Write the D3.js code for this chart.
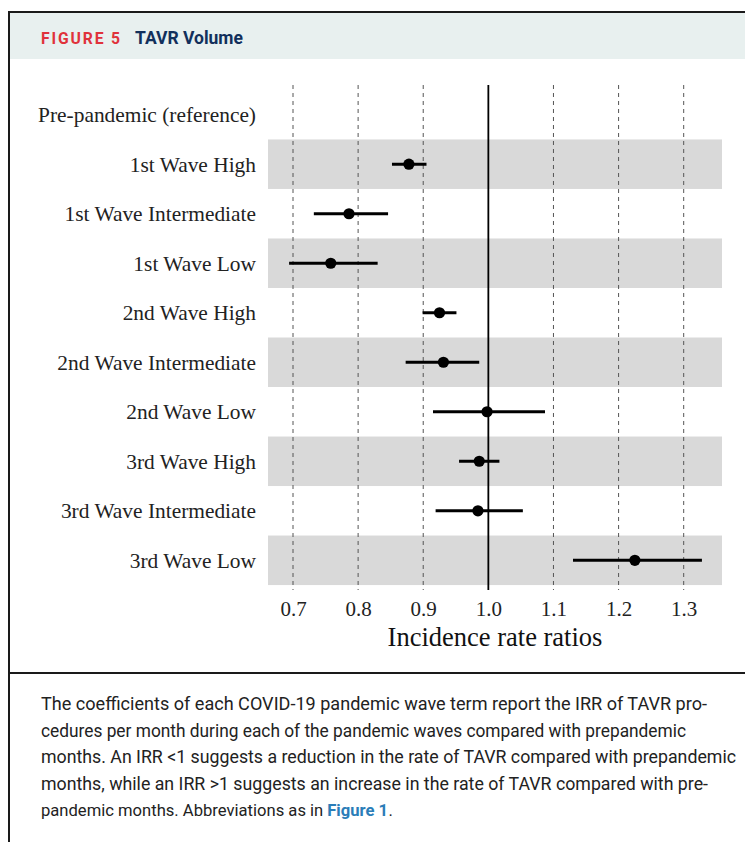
<!DOCTYPE html>
<html>
<head>
<meta charset="utf-8">
<script src="https://cdn.jsdelivr.net/npm/d3@7"></script>
<style>
  html, body { margin: 0; padding: 0; background: #ffffff; }
  svg { display: block; }
</style>
</head>
<body>
<div id="chart"></div>
<script>
// Forest plot of incidence rate ratios for TAVR volume by pandemic wave
const categories = [
  "Pre-pandemic (reference)",
  "1st Wave High",
  "1st Wave Intermediate",
  "1st Wave Low",
  "2nd Wave High",
  "2nd Wave Intermediate",
  "2nd Wave Low",
  "3rd Wave High",
  "3rd Wave Intermediate",
  "3rd Wave Low"
];
// Point estimates and 95% CI bounds (reference row has none)
const estimates = [null, 0.878, 0.786, 0.758, 0.925, 0.931, 0.998, 0.986, 0.984, 1.225];
const lowerCI   = [null, 0.852, 0.732, 0.694, 0.899, 0.873, 0.915, 0.955, 0.919, 1.130];
const upperCI   = [null, 0.905, 0.846, 0.830, 0.951, 0.986, 1.087, 1.017, 1.053, 1.328];
const xTicks = [0.7, 0.8, 0.9, 1.0, 1.1, 1.2, 1.3];
const referenceValue = 1.0;

const captionLines = [
  "The coefficients of each COVID-19 pandemic wave term report the IRR of TAVR pro-",
  "cedures per month during each of the pandemic waves compared with prepandemic",
  "months. An IRR <1 suggests a reduction in the rate of TAVR compared with prepandemic",
  "months, while an IRR >1 suggests an increase in the rate of TAVR compared with pre-"
];
const captionLastLine = ["pandemic months. Abbreviations as in", "Figure 1", "."];

const W = 745, H = 842;
const svg = d3.select("#chart").append("svg").attr("width", W).attr("height", H);

// ---- figure frame and header ----
const frameX = 9, frameTop = 12;
svg.append("rect").attr("x", frameX).attr("y", frameTop).attr("width", W - frameX).attr("height", 47)
  .attr("fill", "#e8f0ef");
svg.append("line").attr("x1", frameX).attr("x2", W).attr("y1", frameTop).attr("y2", frameTop)
  .attr("stroke", "#1a1a1a").attr("stroke-width", 2);
svg.append("line").attr("x1", frameX).attr("x2", frameX).attr("y1", frameTop - 1).attr("y2", H)
  .attr("stroke", "#1a1a1a").attr("stroke-width", 2);
svg.append("line").attr("x1", frameX).attr("x2", W).attr("y1", 673).attr("y2", 673)
  .attr("stroke", "#1a1a1a").attr("stroke-width", 2);

const titleFont = "Roboto, 'Liberation Sans', sans-serif";
svg.append("text").attr("x", 41).attr("y", 44)
  .attr("font-family", titleFont).attr("font-weight", 700)
  .attr("fill", "#e0323b").attr("font-size", 16).attr("letter-spacing", 1.9)
  .attr("textLength", 81).attr("lengthAdjust", "spacingAndGlyphs").text("FIGURE 5");
svg.append("text").attr("x", 135).attr("y", 44)
  .attr("font-family", titleFont).attr("font-weight", 700)
  .attr("fill", "#12305c").attr("font-size", 17.5)
  .attr("textLength", 108).attr("lengthAdjust", "spacingAndGlyphs").text("TAVR Volume");

// ---- plot scales ----
const panel = { left: 268, right: 722, top: 85, bottom: 590 };
const xScale = d3.scaleLinear().domain([0.7, 1.3]).range([293, 683.7]);
xScale.domain([xScale.invert(panel.left), xScale.invert(panel.right)]).range([panel.left, panel.right]);
const yScale = d3.scalePoint().domain(categories).range([panel.top, panel.bottom]).padding(0.6);
const step = yScale.step();

const plot = svg.append("g");

// alternating row bands
plot.selectAll("rect.band")
  .data(categories.filter((d, i) => i % 2 === 1))
  .join("rect")
  .attr("class", "band")
  .attr("x", panel.left).attr("width", panel.right - panel.left)
  .attr("y", d => yScale(d) - step / 2).attr("height", step)
  .attr("fill", "#d9d9d9");

// dashed vertical gridlines
plot.selectAll("line.grid")
  .data(xTicks.filter(t => t !== referenceValue))
  .join("line")
  .attr("class", "grid")
  .attr("x1", d => xScale(d)).attr("x2", d => xScale(d))
  .attr("y1", panel.top).attr("y2", panel.bottom)
  .attr("stroke", "#555").attr("stroke-width", 1).attr("stroke-dasharray", "4,4");

// reference line at IRR = 1
plot.append("line")
  .attr("x1", xScale(referenceValue)).attr("x2", xScale(referenceValue))
  .attr("y1", panel.top).attr("y2", panel.bottom)
  .attr("stroke", "#000").attr("stroke-width", 1.8);

const rows = categories.map((c, i) => ({ c, est: estimates[i], lo: lowerCI[i], hi: upperCI[i] }))
  .filter(d => d.est !== null);

// confidence intervals
plot.selectAll("line.ci").data(rows).join("line")
  .attr("class", "ci")
  .attr("x1", d => xScale(d.lo)).attr("x2", d => xScale(d.hi))
  .attr("y1", d => yScale(d.c)).attr("y2", d => yScale(d.c))
  .attr("stroke", "#000").attr("stroke-width", 3);

// point estimates
plot.selectAll("circle.est").data(rows).join("circle")
  .attr("class", "est")
  .attr("cx", d => xScale(d.est)).attr("cy", d => yScale(d.c))
  .attr("r", 5.6).attr("fill", "#000");

// ---- axes ----
const serif = "'Liberation Serif', 'Times New Roman', serif";
const xAxis = svg.append("g").attr("transform", `translate(0,${panel.bottom})`)
  .call(d3.axisBottom(xScale).tickValues(xTicks).tickFormat(d3.format(".1f")).tickSize(0).tickPadding(11));
xAxis.select(".domain").remove();
xAxis.selectAll("text").attr("font-family", serif).attr("font-size", 21).attr("fill", "#222");

const yAxis = svg.append("g").attr("transform", `translate(${panel.left},0)`)
  .call(d3.axisLeft(yScale).tickSize(0).tickPadding(12));
yAxis.select(".domain").remove();
yAxis.selectAll("text").attr("font-family", serif).attr("font-size", 21.4).attr("fill", "#222");

svg.append("text").attr("x", 495).attr("y", 646).attr("text-anchor", "middle")
  .attr("font-family", serif).attr("font-size", 26.5).attr("fill", "#111")
  .text("Incidence rate ratios");

// ---- caption ----
const captionWidths = [666, 645, 695, 667];
const capFont = "Roboto, 'Liberation Sans', sans-serif";
const capX = 41, capY0 = 710, capLead = 26.5;
captionLines.forEach((line, i) => {
  svg.append("text").attr("x", capX).attr("y", capY0 + i * capLead)
    .attr("font-family", capFont).attr("font-size", 18).attr("fill", "#222")
    .attr("textLength", captionWidths[i]).attr("lengthAdjust", "spacingAndGlyphs")
    .text(line);
});

// last line: plain text, bold link, period — placed one after another
const lastY = capY0 + captionLines.length * capLead;
const gaps = [4, 0.5, 0];
let cursor = capX;
captionLastLine.forEach((s, i) => {
  const t = svg.append("text")
    .attr("x", cursor).attr("y", lastY)
    .attr("font-family", capFont).attr("font-size", 16.6)
    .attr("font-weight", i === 1 ? 700 : 400)
    .attr("fill", i === 1 ? "#2a7db8" : "#222")
    .text(s);
  cursor += t.node().getComputedTextLength() + gaps[i];
});
</script>
</body>
</html>
